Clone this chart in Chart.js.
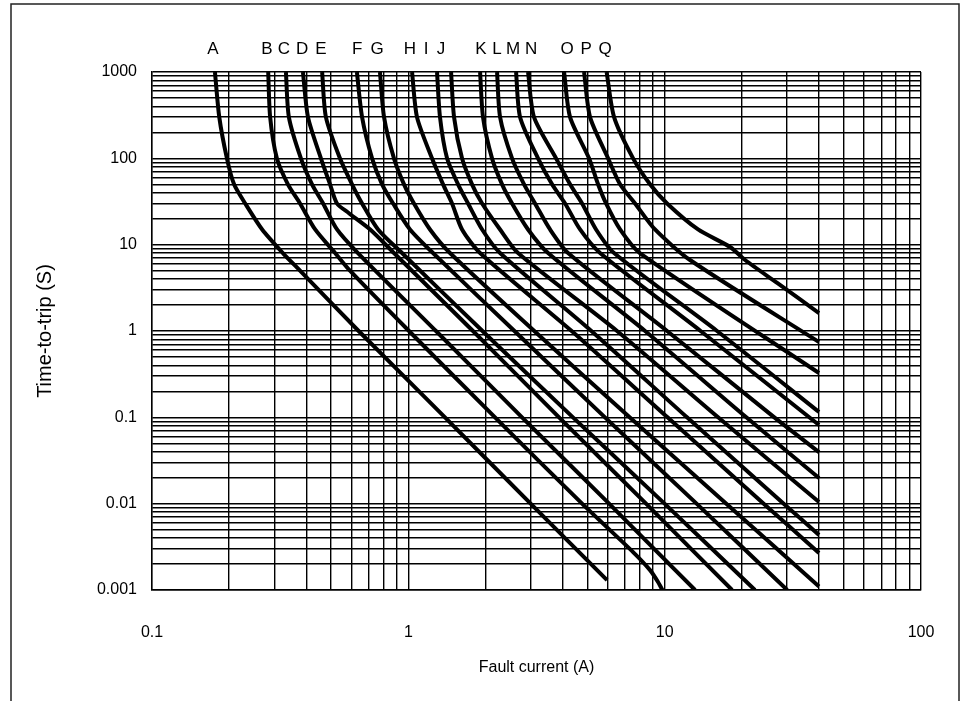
<!DOCTYPE html>
<html>
<head>
<meta charset="utf-8">
<title>Time-to-trip curves</title>
<script src="https://cdn.jsdelivr.net/npm/chart.js@4.4.1/dist/chart.umd.min.js"></script>
<style>
  html, body { margin: 0; padding: 0; background: #fff; }
  canvas { display: block; }
</style>
</head>
<body>
<canvas id="trip-chart" width="962" height="701"></canvas>
<script>
// curve names (labels across the top)
var curveNames = ['A','B','C','D','E','F','G','H','I','J','K','L','M','N','O','P','Q'];

// where each letter label sits on the current axis (A)
var labelX = [0.173, 0.281, 0.327, 0.385, 0.456, 0.631, 0.755, 1.015, 1.172, 1.341,
              1.921, 2.219, 2.562, 3.011, 4.161, 4.935, 5.854];

// [fault current (A), time-to-trip (s)]
var curveA = [[0.176,1000],[0.183,300],[0.196,100],[0.209,50],[0.231,30],[0.269,15],[0.324,8],[0.378,5],[0.64,1],[1.39,0.1],[3.0,0.01],[5.96,0.0013]];
var curveB = [[0.284,1000],[0.289,300],[0.307,100],[0.339,50],[0.378,30],[0.433,15],[0.518,8],[0.592,5],[1.006,1],[2.179,0.1],[4.762,0.01],[7.53,0.00275],[8.77,0.0017],[9.42,0.00124],[9.8,0.001]];
var curveC = [[0.333,1000],[0.342,300],[0.381,100],[0.421,50],[0.465,30],[0.527,15],[0.636,8],[1.282,1],[2.777,0.1],[6.07,0.01],[13.14,0.001]];
var curveD = [[0.388,1000],[0.406,300],[0.456,100],[0.495,50],[0.527,30],[0.585,23.3],[0.71,15],[0.879,8],[1.787,1],[3.873,0.1],[8.46,0.01],[18.32,0.001]];
var curveE = [[0.461,1000],[0.477,300],[0.541,100],[0.603,50],[0.66,30],[0.762,15],[0.945,8],[1.946,1],[4.388,0.1],[9.99,0.01],[22.5,0.001]];
var curveF = [[0.63,1000],[0.66,300],[0.722,100],[0.79,50],[0.872,30],[1.015,15],[1.248,8],[2.594,1],[5.85,0.1],[13.32,0.01],[30.06,0.001]];
var curveG = [[0.775,1000],[0.804,300],[0.879,100],[0.962,50],[1.052,30],[1.215,15],[1.454,8],[3.1,1],[7.3,0.1],[17.4,0.01],[40,0.0011]];
var curveH = [[1.034,1000],[1.081,300],[1.237,100],[1.366,50],[1.481,30],[1.62,15],[1.905,8],[4.337,1],[10.26,0.1],[24.34,0.01],[40,0.00268]];
var curveI = [[1.294,1000],[1.329,300],[1.416,100],[1.563,50],[1.71,30],[1.94,15],[2.28,8],[5.176,1],[12.22,0.1],[29.13,0.01],[40,0.00434]];
var curveJ = [[1.468,1000],[1.508,300],[1.62,100],[1.772,50],[1.94,30],[2.28,15],[2.679,8],[6.52,1],[16.16,0.1],[40,0.01045]];
var curveK = [[1.905,1000],[1.956,300],[2.121,100],[2.321,50],[2.539,30],[2.931,15],[3.509,8],[8.386,1],[20.82,0.1],[40,0.0198]];
var curveL = [[2.219,1000],[2.28,300],[2.539,100],[2.828,50],[3.121,30],[3.572,15],[4.2,8],[10.22,1],[26.78,0.1],[40,0.0396]];
var curveM = [[2.632,1000],[2.729,300],[3.206,100],[3.637,50],[4.088,30],[4.677,15],[5.598,8],[13.81,1],[40,0.0815]];
var curveN = [[2.931,1000],[3.093,300],[3.77,100],[4.275,50],[4.762,30],[5.399,15],[6.348,8],[16.01,1],[40,0.1153]];
var curveO = [[4.051,1000],[4.275,300],[5.07,100],[5.497,50],[5.906,30],[6.699,15],[8.0,8],[40,0.326]];
var curveP = [[4.848,1000],[5.116,300],[6.016,100],[6.699,50],[7.665,30],[9.17,15],[12.56,6.64],[40,0.745]];
var curveQ = [[5.937,1000],[6.348,300],[7.53,100],[8.77,50],[10.22,30],[13.5,15],[18.0,9.4],[20.6,6.64],[27.47,3.6],[40,1.615]];

var allCurves = [curveA, curveB, curveC, curveD, curveE, curveF, curveG, curveH, curveI,
                 curveJ, curveK, curveL, curveM, curveN, curveO, curveP, curveQ];

// axis ranges and labelled ticks
var xTickValues = [0.1, 1, 10, 100];
var xTickLabels = ['0.1', '1', '10', '100'];
var yTickValues = [0.001, 0.01, 0.1, 1, 10, 100, 1000];
var yTickLabels = ['0.001', '0.01', '0.1', '1', '10', '100', '1000'];

// 1..9 in every decade, so the grid looks like log paper
function logTicks(min, max) {
  var ticks = [];
  for (var dec = min; dec < max * 0.999; dec *= 10) {
    for (var k = 1; k <= 9; k++) {
      ticks.push({ value: dec * k });
    }
  }
  ticks.push({ value: max });
  return ticks;
}

function majorLabel(value, values, labels) {
  for (var i = 0; i < values.length; i++) {
    if (Math.abs(Math.log10(value) - Math.log10(values[i])) < 1e-6) return labels[i];
  }
  return '';
}

// fixed axis box, no extra room asked for by the end labels
function fixBox(w, h) {
  return function (s) {
    if (w) s.width = w;
    if (h) s.height = h;
    s.paddingLeft = 0;
    s.paddingRight = 0;
    s.paddingTop = 0;
    s.paddingBottom = 0;
  };
}

// letters over the curves + the outer frame
var letterPlugin = {
  id: 'letters',
  afterDraw: function (chart) {
    var ctx = chart.ctx;
    var xs = chart.scales.x;
    ctx.save();
    ctx.fillStyle = '#000';
    ctx.font = '17px "Liberation Sans", Arial, sans-serif';
    ctx.textAlign = 'center';
    ctx.textBaseline = 'middle';
    for (var i = 0; i < curveNames.length; i++) {
      ctx.fillText(curveNames[i], xs.getPixelForValue(labelX[i]), chart.chartArea.top - 23);
    }
    ctx.strokeStyle = '#222';
    ctx.lineWidth = 1.5;
    ctx.strokeRect(11, 4, 948, 720);
    ctx.restore();
  }
};

document.addEventListener('DOMContentLoaded', function () {
  Chart.defaults.font.family = '"Liberation Sans", Arial, sans-serif';
  Chart.defaults.font.size = 16;
  Chart.defaults.color = '#000';

  var datasets = allCurves.map(function (pts, i) {
    return {
      label: curveNames[i],
      data: pts.map(function (p) { return { x: p[0], y: p[1] }; }),
      showLine: true,
      borderColor: '#000',
      borderWidth: 4,
      pointRadius: 0,
      tension: 0.25,
      fill: false
    };
  });

  var tripChart = new Chart(document.getElementById('trip-chart'), {
    type: 'scatter',
    data: { datasets: datasets },
    options: {
      responsive: false,
      animation: false,
      layout: { padding: { left: 0, top: 72, right: 41, bottom: 0 } },
      plugins: {
        legend: { display: false },
        tooltip: { enabled: false }
      },
      scales: {
        x: {
          type: 'logarithmic',
          position: 'bottom',
          min: 0.1,
          max: 100,
          afterBuildTicks: function (s) { s.ticks = logTicks(0.1, 100); },
          afterFit: fixBox(0, 111),
          grid: { color: '#000', lineWidth: 1.4, drawTicks: false },
          border: { color: '#000', width: 1.4 },
          ticks: {
            autoSkip: false,
            maxRotation: 0,
            padding: 33,
            callback: function (v) { return majorLabel(v, xTickValues, xTickLabels); }
          },
          title: {
            display: true,
            text: 'Fault current (A)',
            padding: { top: 0, bottom: 24 }
          }
        },
        y: {
          type: 'logarithmic',
          position: 'left',
          min: 0.001,
          max: 1000,
          afterBuildTicks: function (s) { s.ticks = logTicks(0.001, 1000); },
          afterFit: fixBox(152, 0),
          grid: { color: '#000', lineWidth: 1.4, drawTicks: false },
          border: { color: '#000', width: 1.4 },
          ticks: {
            autoSkip: false,
            padding: 15,
            callback: function (v) { return majorLabel(v, yTickValues, yTickLabels); }
          },
          title: {
            display: true,
            text: 'Time-to-trip (S)',
            font: { size: 20 },
            padding: { top: 33, bottom: 0 }
          }
        }
      }
    },
    plugins: [letterPlugin]
  });
});
</script>
</body>
</html>
